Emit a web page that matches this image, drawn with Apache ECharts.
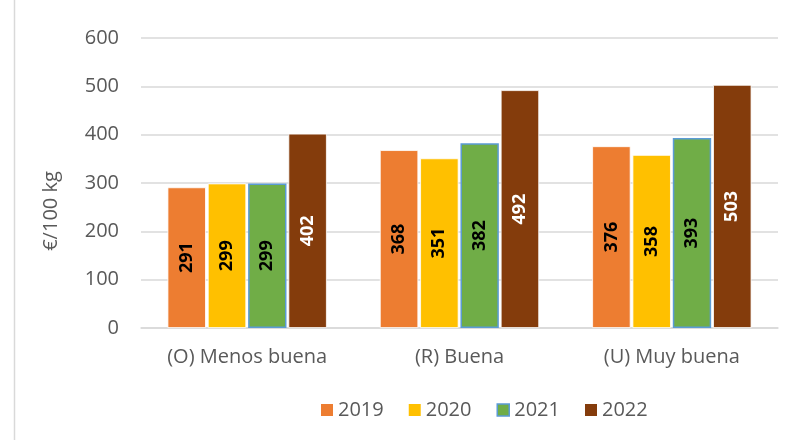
<!DOCTYPE html>
<html>
<head>
<meta charset="utf-8">
<script src="https://cdn.jsdelivr.net/npm/echarts@6/dist/echarts.min.js"></script>
<style>
  html, body { margin: 0; padding: 0; background: #fff; }
  #main { width: 799px; height: 440px; }
</style>
</head>
<body>
<div id="main"></div>
<script>
const categories = ['(O) Menos buena', '(R) Buena', '(U) Muy buena'];
const years = ['2019', '2020', '2021', '2022'];
const v2019 = [291, 368, 376];
const v2020 = [299, 351, 358];
const v2021 = [299, 382, 393];
const v2022 = [402, 492, 503];
const yTicks = [0, 100, 200, 300, 400, 500, 600];

const colors = ['#ED7D31', '#FFC000', '#70AD47', '#843C0C'];
const borders = ['#fff', '#fff', '#5B9BD5', '#fff'];
const labelColors = ['#000', '#000', '#000', '#fff'];
const font = 'Open Sans, sans-serif';

const chart = echarts.init(document.getElementById('main'));

const series = [v2019, v2020, v2021, v2022].map((vals, i) => ({
  name: years[i],
  type: 'bar',
  data: vals,
  barGap: '5%',
  barCategoryGap: '25%',
  itemStyle: { color: colors[i], borderColor: borders[i], borderWidth: i === 2 ? 1.5 : 0.8 },
  label: {
    show: true,
    position: 'inside',
    rotate: 90,
    color: labelColors[i],
    fontWeight: 'bold',
    fontSize: 18,
    fontFamily: font
  }
}));

chart.setOption({
  animation: false,
  color: colors,
  graphic: [{
    type: 'line',
    shape: { x1: 14.5, y1: 0, x2: 14.5, y2: 440 },
    style: { stroke: '#d9d9d9', lineWidth: 1.5 }
  }],
  grid: { left: 141, right: 21, top: 38, bottom: 112 },
  legend: {
    left: 316,
    top: 395,
    itemWidth: 12,
    itemHeight: 12,
    itemGap: 25,
    textStyle: { color: '#595959', fontSize: 20, fontFamily: font },
    data: years.map((y, i) => ({
      name: y,
      icon: 'rect',
      itemStyle: { color: colors[i], borderColor: i === 2 ? '#5B9BD5' : colors[i], borderWidth: i === 2 ? 1.5 : 0 }
    }))
  },
  xAxis: {
    type: 'category',
    data: categories,
    axisLine: { lineStyle: { color: '#d9d9d9', width: 1.5 } },
    axisTick: { show: false },
    axisLabel: { color: '#595959', fontSize: 20, fontFamily: font, margin: 19 }
  },
  yAxis: {
    type: 'value',
    min: yTicks[0],
    max: yTicks[yTicks.length - 1],
    interval: 100,
    name: '€/100 kg',
    nameLocation: 'middle',
    nameGap: 80,
    nameRotate: 90,
    nameTextStyle: { color: '#595959', fontSize: 20, fontFamily: font, padding: [0, 56, 0, 0] },
    axisLine: { show: false },
    axisTick: { show: false },
    axisLabel: { color: '#595959', fontSize: 20, fontFamily: font, margin: 22 },
    splitLine: { lineStyle: { color: '#d9d9d9', width: 1.5 } }
  },
  series: series
});
</script>
</body>
</html>
